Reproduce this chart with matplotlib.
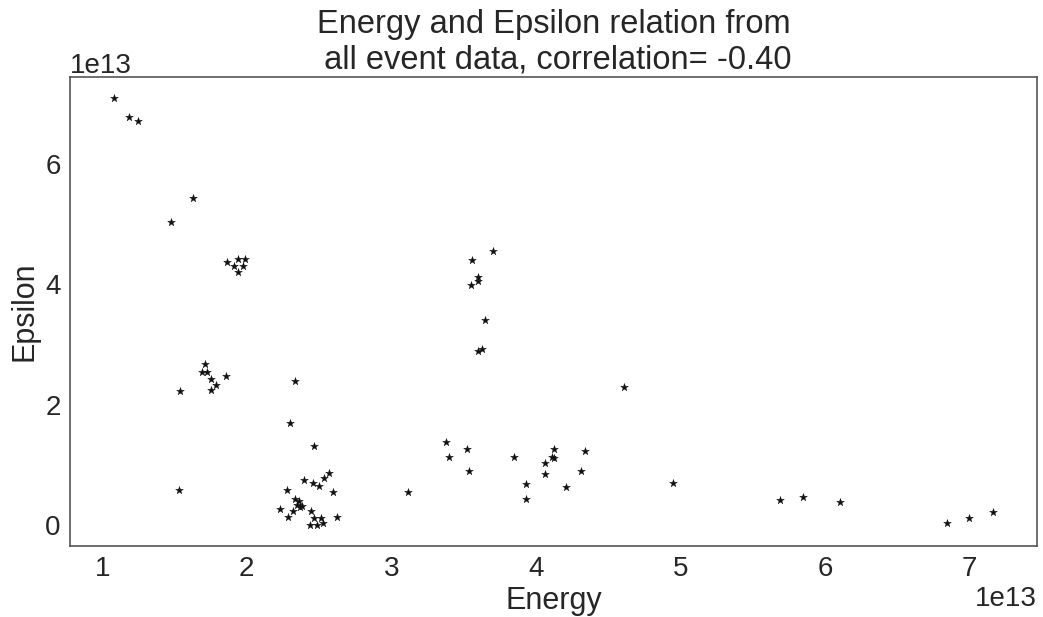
import matplotlib
matplotlib.use("Agg")
import matplotlib.pyplot as plt
from matplotlib.ticker import MultipleLocator
import seaborn as sns
import numpy as np

# Event energy and epsilon values (units of 1e13)
energy = [
    1.083, 1.184, 1.244, 1.626, 1.477,
    1.863, 1.937, 1.988, 1.912, 1.976, 1.937,
    1.711, 1.689, 1.727, 1.751, 1.785, 1.751, 1.854, 1.537,
    2.331, 2.298, 2.464, 1.530,
    2.570, 2.533, 2.395, 2.459, 2.499, 2.595, 2.276, 2.333, 2.360, 2.349, 2.383,
    2.367, 2.317, 2.227, 2.285, 2.445, 2.464, 2.510, 2.526, 2.483, 2.434, 2.621,
    3.700, 3.559, 3.599, 3.599, 3.548, 3.645, 3.597, 3.627, 4.610,
    3.376, 3.523, 3.399, 3.537, 3.118, 3.845, 3.928, 3.928, 4.122, 4.112, 4.122,
    4.062, 4.062, 4.211, 4.340, 4.315,
    4.950, 5.687, 5.850, 6.104, 6.845, 6.997, 7.160,
]
epsilon = [
    7.10, 6.79, 6.72, 5.44, 5.04,
    4.37, 4.42, 4.42, 4.31, 4.31, 4.21,
    2.67, 2.55, 2.55, 2.42, 2.32, 2.25, 2.48, 2.23,
    2.40, 1.70, 1.31, 0.58,
    0.86, 0.78, 0.75, 0.69, 0.64, 0.54, 0.58, 0.42, 0.40, 0.32, 0.31,
    0.29, 0.22, 0.26, 0.13, 0.23, 0.11, 0.11, 0.02, 0.00, 0.00, 0.13,
    4.55, 4.41, 4.13, 4.05, 3.99, 3.41, 2.90, 2.93, 2.29,
    1.37, 1.26, 1.12, 0.89, 0.54, 1.13, 0.67, 0.43, 1.26, 1.13, 1.11,
    1.02, 0.85, 0.62, 1.23, 0.89,
    0.69, 0.41, 0.46, 0.38, 0.03, 0.11, 0.21,
]
scale = 1e13
title = "Energy and Epsilon relation from\n all event data, correlation= -0.40"

sns.set_style("white")
plt.rcParams["font.family"] = ["Liberation Sans", "DejaVu Sans"]

x = np.array(energy) * scale
y = np.array(epsilon) * scale

fig = plt.figure(figsize=(10.43, 6.17), dpi=100)
ax = fig.add_axes([0.0674, 0.1151, 0.9266, 0.7601])
ax.scatter(x, y, marker="*", s=34, color="#111111", linewidths=0.3)

ax.yaxis.set_major_locator(MultipleLocator(2 * scale))
ax.xaxis.set_major_locator(MultipleLocator(1 * scale))

ax.set_title(title, fontsize=23.5, color="#262626")
ax.set_xlabel("Energy", fontsize=22, labelpad=3)
ax.set_ylabel("Epsilon", fontsize=22)
ax.tick_params(axis="both", labelsize=20)
ax.xaxis.get_offset_text().set_fontsize(20)
ax.yaxis.get_offset_text().set_fontsize(20)
for sp in ax.spines.values():
    sp.set_color("#555555")
    sp.set_linewidth(1.2)

fig.savefig("out.png", dpi=100)
